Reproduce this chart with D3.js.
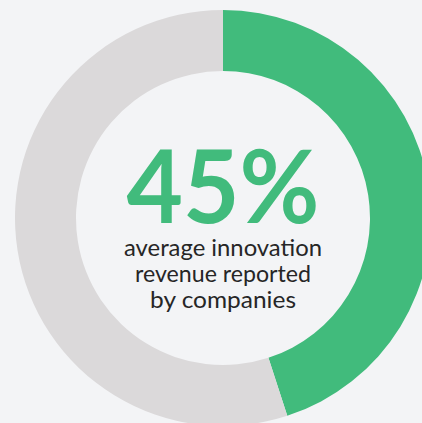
<!DOCTYPE html>
<html><head><meta charset="utf-8">
<script src="https://cdn.jsdelivr.net/npm/d3@7"></script>
<style>html,body{margin:0;padding:0;background:#f3f4f6;}svg{display:block;}</style>
</head><body>
<svg id="c" width="422" height="423"></svg>
<script>
const categories = ["Innovation revenue", "Other revenue"];
const values = [45, 55];
const colors = ["#41bb7c", "#dbd9da"];
const headline = "45%";
const captionLines = ["average innovation", "revenue reported", "by companies"];

const svg = d3.select("#c");
const W = 422, H = 423;
svg.append("rect").attr("width", W).attr("height", H).attr("fill", "#f3f4f6");
const cx = 223, cy = 218, rOuter = 208, rInner = 147;
const g = svg.append("g").attr("transform", `translate(${cx},${cy})`);
const pie = d3.pie().sort(null).value(d => d)(values);
const arc = d3.arc().innerRadius(rInner).outerRadius(rOuter);
g.selectAll("path").data(pie).join("path")
  .attr("d", arc).attr("fill", (d, i) => colors[i]);

g.append("text").text(headline)
  .attr("x", 0).attr("y", 5)
  .attr("text-anchor", "middle")
  .attr("font-family", "Lato, sans-serif").attr("font-weight", 700)
  .attr("font-size", 102).attr("fill", colors[0])
  .attr("textLength", 193).attr("lengthAdjust", "spacingAndGlyphs");

g.selectAll("text.cap").data(captionLines).join("text").attr("class", "cap")
  .text(d => d)
  .attr("x", 0).attr("y", (d, i) => 38 + i * 26)
  .attr("text-anchor", "middle")
  .attr("font-family", "Lato, sans-serif").attr("font-size", 23)
  .attr("textLength", (d, i) => [198, 176, 146][i]).attr("lengthAdjust", "spacingAndGlyphs")
  .attr("fill", "#262626");
</script>
</body></html>
